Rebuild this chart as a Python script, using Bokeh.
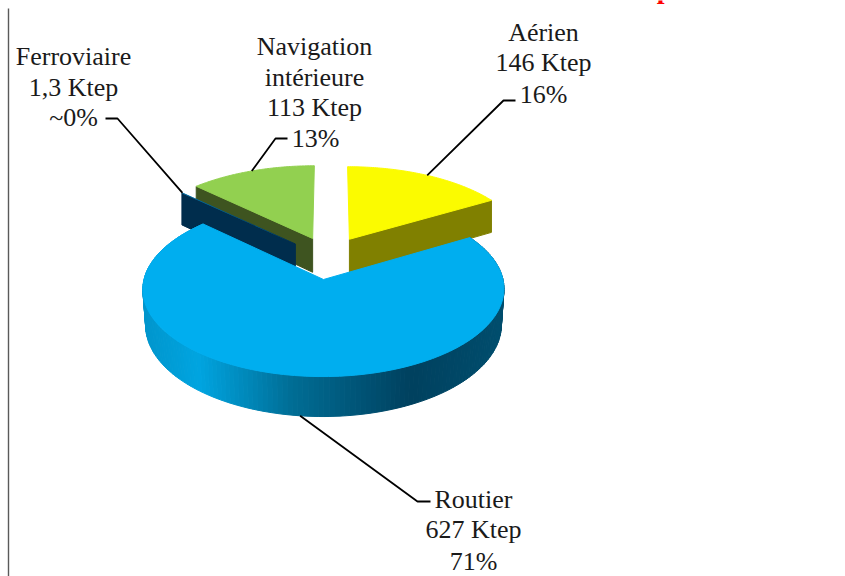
import numpy as np
from bokeh.plotting import figure
from bokeh.models import Range1d, Label
from bokeh.core.properties import value
from bokeh.embed import file_html
from bokeh.resources import INLINE

# ---- data
categories = ["Aérien", "Routier", "Ferroviaire", "Navigation intérieure"]
values_ktep = [146, 627, 1.3, 113]
value_labels = ["146 Ktep", "627 Ktep", "1,3 Ktep", "113 Ktep"]
pct_labels = ["16%", "71%", "~0%", "13%"]

# ---- style / layout
FONT = "Liberation Serif"
FS = "26px"
top_cols = {"Aérien": "#FBFB00", "Routier": "#00AEEF", "Ferroviaire": "#0070A8", "Navigation intérieure": "#92D050"}
side_cols = {"Aérien": "#808000", "Ferroviaire": "#002D4D", "Navigation intérieure": "#3E5420"}
grad_x = [142, 197, 290, 410, 504]
grad_r = [0, 0, 0, 0, 0]
grad_g = [150, 165, 110, 65, 78]
grad_b = [205, 225, 150, 95, 110]

W, H = 845, 576
CX, CY, R, RY, K, D = 330, 279, 179.5, 86.5, 0.109, 35.6
explode = {"Aérien": (0.111, 0.49), "Routier": (-0.039, 0.0),
           "Ferroviaire": (-0.205, 0.43), "Navigation intérieure": (-0.105, 0.50)}
radius = {"Aérien": 1.03, "Routier": 1.0, "Ferroviaire": 1.0, "Navigation intérieure": 1.035}


def proj(name, th, rad=1.0):
    x0, z0 = explode[name]
    f = rad * radius[name]
    X = x0 + f * np.sin(th)
    Z = z0 + f * np.cos(th)
    s = 1.0 / (1 + K * Z)
    return CX + R * X * s, CY - RY * Z * s, D * s


p = figure(width=W, height=H, output_backend="svg", toolbar_location=None,
           x_range=Range1d(0, W), y_range=Range1d(H, 0),
           min_border=0, outline_line_color=None, background_fill_color="white",
           margin=(0, 0, 0, 0))
p.axis.visible = False
p.grid.visible = False

total = sum(values_ktep)
edges = np.cumsum([0] + values_ktep) / total * 2 * np.pi
span = {c: (edges[i], edges[i + 1]) for i, c in enumerate(categories)}


def top_poly(name):
    a, b = span[name]
    th = np.linspace(a, b, 80)
    x, y, _ = proj(name, th)
    ax, ay, _ = proj(name, th, 0.0)
    return list(np.r_[ax[0], x]), list(np.r_[ay[0], y])


def cut_face(name, th):
    x, y, d = proj(name, th)
    ax, ay, ad = proj(name, th, 0.0)
    return [float(ax), float(x), float(x), float(ax)], [float(ay), float(y), float(y + d), float(ay + ad)]


# axis rule on the left
p.line([8, 8], [8, H], line_color="#5A5A5A", line_width=1.4)

# Aérien (back right)
n = "Aérien"
fx, fy = cut_face(n, span[n][1])
p.patch(fx, fy, fill_color=side_cols[n], line_color=side_cols[n])
tx, ty = top_poly(n)
p.patch(tx, ty, fill_color=top_cols[n], line_color=top_cols[n])

# Navigation (back left)
n = "Navigation intérieure"
fx, fy = cut_face(n, span[n][0])
p.patch(fx, fy, fill_color=side_cols[n], line_color=side_cols[n])
tx, ty = top_poly(n)
p.patch(tx, ty, fill_color=top_cols[n], line_color=top_cols[n])

# Ferroviaire sliver
n = "Ferroviaire"
fx, fy = cut_face(n, span[n][0])
p.patch(fx, fy, fill_color=side_cols[n], line_color=side_cols[n])
tx, ty = top_poly(n)
p.patch(tx, ty, fill_color=top_cols[n], line_color=None)

# Routier rim with horizontal gradient, then its top
n = "Routier"
a, b = span[n]
th = np.linspace(a, b, 170)
rx, ry, rd = proj(n, th)
bx = CX + (rx - CX) * 0.985
xs, ys, cols = [], [], []
for i in range(len(th) - 1):
    xs.append([rx[i], rx[i + 1], bx[i + 1], bx[i]])
    ys.append([ry[i], ry[i + 1], ry[i + 1] + rd[i + 1], ry[i] + rd[i]])
    xm = (rx[i] + rx[i + 1]) / 2
    cols.append("#%02x%02x%02x" % (int(np.interp(xm, grad_x, grad_r)),
                                   int(np.interp(xm, grad_x, grad_g)),
                                   int(np.interp(xm, grad_x, grad_b))))
p.patches(xs, ys, fill_color=cols, line_color=cols, line_width=1)
tx, ty = top_poly(n)
p.patch(tx, ty, fill_color=top_cols[n], line_color=top_cols[n])


# leader lines: end on the middle of each slice's rim
def mid(name, drop=False):
    a, b = span[name]
    x, y, d = proj(name, (a + b) / 2)
    return float(x), float(y + d) if drop else float(y)


leaders = {
    "Aérien": ([515, 503], [100, 100], False),
    "Routier": ([430, 417], [501, 501], True),
    "Ferroviaire": ([105, 117], [118, 118], False),
    "Navigation intérieure": ([287, 275], [138, 138], False),
}
for c, (lx, ly, drop) in leaders.items():
    ex, ey = mid(c, drop)
    p.line(lx + [ex], ly + [ey], line_color="black", line_width=1.8)

# labels, one line of text at a time
lines = [
    ("Aérien", 543, 32), ("146 Ktep", 543, 62), ("16%", 543, 94),
    ("Routier", 473, 499), ("627 Ktep", 473, 529), ("71%", 473, 561),
    ("Ferroviaire", 73, 56), ("1,3 Ktep", 73, 87), ("~0%", 73, 117),
    ("Navigation", 314, 46), ("intérieure", 314, 77), ("113 Ktep", 314, 107), ("13%", 315, 138),
]
p.text([l[1] for l in lines], [l[2] for l in lines], text=[l[0] for l in lines],
       text_font=value(FONT), text_font_size=FS, text_color="#1a1a1a",
       text_align="center", text_baseline="middle")

# clipped red title at the top of the page
p.add_layout(Label(x=664, y=-12, text="p", text_color="#FF0000", text_font=FONT, text_font_style="bold",
                   text_font_size="28px", text_align="center", text_baseline="alphabetic"))

open("out.html", "w").write(file_html(p, INLINE))
